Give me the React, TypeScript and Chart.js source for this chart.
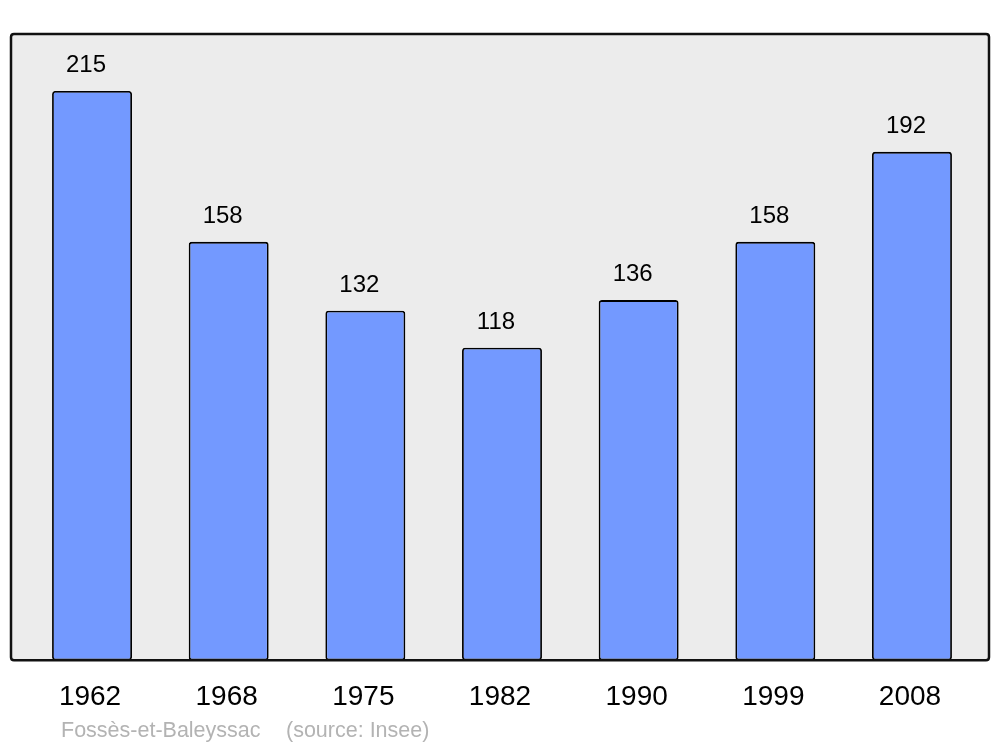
import React, { useEffect, useRef } from "react";
import { Chart, registerables } from "chart.js";

Chart.register(...registerables);

const years = ["1962", "1968", "1975", "1982", "1990", "1999", "2008"];
const population = [215, 158, 132, 118, 136, 158, 192];
const footerName = "Fossès-et-Baleyssac";
const footerSource = "(source: Insee)";

const FONT = "'Liberation Sans', Arial, sans-serif";

function roundRect(ctx: CanvasRenderingContext2D, x: number, y: number, w: number, h: number, r: number) {
  ctx.beginPath();
  ctx.moveTo(x + r, y);
  ctx.lineTo(x + w - r, y);
  ctx.quadraticCurveTo(x + w, y, x + w, y + r);
  ctx.lineTo(x + w, y + h - r);
  ctx.quadraticCurveTo(x + w, y + h, x + w - r, y + h);
  ctx.lineTo(x + r, y + h);
  ctx.quadraticCurveTo(x, y + h, x, y + h - r);
  ctx.lineTo(x, y + r);
  ctx.quadraticCurveTo(x, y, x + r, y);
  ctx.closePath();
}

const framePlugin = {
  id: "frame",
  beforeDatasetsDraw(chart: any) {
    const { ctx, chartArea } = chart;
    ctx.save();
    roundRect(ctx, 11, chartArea.top, 978, chartArea.bottom - chartArea.top, 3);
    ctx.fillStyle = "#ececec";
    ctx.fill();
    ctx.restore();
  },
  afterDatasetsDraw(chart: any) {
    const { ctx, chartArea } = chart;
    ctx.save();
    roundRect(ctx, 11, chartArea.top, 978, chartArea.bottom - chartArea.top, 3);
    ctx.strokeStyle = "#111111";
    ctx.lineWidth = 2.5;
    ctx.stroke();
    // value labels
    const meta = chart.getDatasetMeta(0);
    ctx.fillStyle = "#000000";
    ctx.font = `24px ${FONT}`;
    ctx.textAlign = "center";
    ctx.textBaseline = "alphabetic";
    meta.data.forEach((bar: any, i: number) => {
      ctx.fillText(String(population[i]), bar.x - 6, bar.y - 19);
    });
    // footer
    ctx.fillStyle = "#b3b3b3";
    ctx.font = `21.5px ${FONT}`;
    ctx.textAlign = "left";
    ctx.fillText(footerName, 61, 737);
    ctx.fillText(footerSource, 286, 737);
    ctx.restore();
  },
};

export default function App() {
  const ref = useRef<HTMLCanvasElement | null>(null);
  useEffect(() => {
    if (!ref.current) return;
    const chart = new Chart(ref.current, {
      type: "bar",
      data: {
        labels: years,
        datasets: [
          {
            data: population,
            backgroundColor: "#7399ff",
            borderColor: "#000000",
            borderWidth: 1.8,
            borderRadius: 3,
            borderSkipped: false,
            barPercentage: 0.585,
            categoryPercentage: 1,
          },
        ],
      },
      options: {
        animation: false,
        responsive: false,
        maintainAspectRatio: false,
        layout: { padding: { top: 34, left: 23.7, right: 19.7, bottom: 13.2 } },
        plugins: { legend: { display: false }, tooltip: { enabled: false } },
        scales: {
          x: {
            grid: { display: false, drawTicks: false },
            border: { display: false },
            ticks: { color: "#000000", font: { size: 28, family: FONT }, padding: 20, labelOffset: -2 },
          },
          y: { display: false, min: 0, max: 236.5 },
        },
      },
      plugins: [framePlugin],
    });
    return () => chart.destroy();
  }, []);
  return (
    <div style={{ position: "absolute", left: 0, top: 0, width: 1000, height: 747 }}>
      <canvas ref={ref} width={1000} height={747} style={{ display: "block", width: 1000, height: 747 }} />
    </div>
  );
}
